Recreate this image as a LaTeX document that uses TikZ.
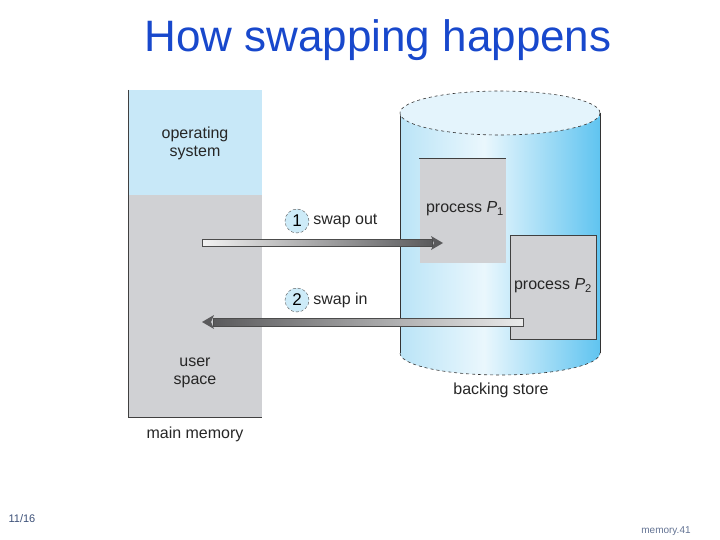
\documentclass[tikz,border=0pt]{standalone}
\usepackage{fontspec}
\setmainfont{Liberation Sans}
\usetikzlibrary{positioning}

\definecolor{titleblue}{RGB}{24,72,204}
\definecolor{osblue}{RGB}{200,232,248}
\definecolor{memgray}{RGB}{208,209,212}
\definecolor{cylL}{RGB}{186,228,247}
\definecolor{cylM}{RGB}{234,247,253}
\definecolor{cylR}{RGB}{96,196,240}
\definecolor{cyltop}{RGB}{228,244,252}
\definecolor{numblue}{RGB}{205,235,248}
\definecolor{footblue}{RGB}{60,80,120}
\definecolor{arrowdark}{RGB}{90,90,92}

\pgfdeclarehorizontalshading{cylshade}{100bp}{color(0bp)=(cylL); color(25bp)=(cylL); color(46bp)=(cylM); color(75bp)=(cylR); color(100bp)=(cylR)}

\tikzset{
  lbl/.style={font=\fontsize{16}{18}\selectfont, text=black!85, align=center, inner sep=0pt},
  membox/.style={minimum width=133pt, inner sep=0pt, draw=none},
  procbox/.style={fill=memgray, minimum width=86pt, minimum height=104pt, inner sep=0pt},
  stepnum/.style={circle, fill=numblue, draw=black!70, densely dashed, minimum size=24pt, inner sep=0pt, font=\fontsize{17}{18}\selectfont},
}

\begin{document}
\begin{tikzpicture}[x=1pt,y=-1pt]
                \useasboundingbox (0,0) rectangle (720,540);

                \node[font=\fontsize{44}{48}\selectfont, text=titleblue] (title) at (378,40) {How swapping happens};

                % main memory
                \node[membox, fill=osblue, minimum height=105pt] (os) at (195.5,142.5) {};
                \node[membox, fill=memgray, minimum height=222pt] (user) at (195.5,306) {};
                \draw[black!75, line width=1pt] (os.north west) -- (user.south west) -- (user.south east);
                \node[lbl] (oslbl) at (195,143) {operating\\system};
                \node[lbl] (userlbl) at (195,373) {user\\space};
                \node[lbl] (mainlbl) at (195,434) {main memory};

                % backing store
                \path[shading=cylshade] (400,113) -- (400,353) arc[start angle=180, end angle=0, x radius=100, y radius=22] -- (600,113) -- cycle;
                \draw[black!80, line width=0.6pt] (400,113) -- (400,353);
                \draw[black!80, line width=0.6pt] (600,113) -- (600,353);
                \draw[black!80, line width=0.6pt, dashed] (400,353) arc[start angle=180, end angle=0, x radius=100, y radius=22];
                \draw[black!80, line width=0.6pt, dashed, fill=cyltop] (500,113) ellipse[x radius=100, y radius=22];
                \node[lbl] (storelbl) at (501,390) {backing store};

                \node[procbox] (p1) at (462.5,211) {};
                \draw[black!75, line width=0.8pt] (p1.north west) -- (p1.north east);
                \node[lbl] (p1lbl) at (465,209) {process \textit{P}\textsubscript{1}};
                \node[procbox, draw=black!75, line width=0.8pt] (p2) at (553.5,287) {};
                \node[lbl] (p2lbl) at (553,286) {process \textit{P}\textsubscript{2}};

                % swap out
                \node[stepnum] (one) at (297,221) {1};
                \node[lbl, right=4pt of one] (outlbl) {swap out};
                \coordinate (outA) at (202,243);
                \coordinate (outB) at (443,243);
                \shade[left color=white!95!black, right color=arrowdark, draw=black!70, line width=0.5pt] ([yshift=3.5pt]outA) rectangle ([xshift=-11pt,yshift=-3.5pt]outB);
                \fill[arrowdark] ([xshift=-12pt,yshift=7pt]outB) -- (outB) -- ([xshift=-12pt,yshift=-7pt]outB) -- ([xshift=-9pt]outB) -- cycle;

                % swap in
                \node[stepnum] (two) at (297,300) {2};
                \node[lbl, right=4pt of two] (inlbl) {swap in};
                \coordinate (inA) at (523,322);
                \coordinate (inB) at (202,322);
                \shade[left color=arrowdark, right color=white!92!black, draw=black!70, line width=0.5pt] ([xshift=11pt,yshift=4pt]inB) rectangle ([yshift=-4pt]inA);
                \fill[arrowdark] ([xshift=12pt,yshift=7pt]inB) -- (inB) -- ([xshift=12pt,yshift=-7pt]inB) -- ([xshift=9pt]inB) -- cycle;

                % footer
                \node[font=\fontsize{11}{13}\selectfont, text=footblue] (page) at (22,519) {11/16};
                \node[font=\fontsize{10}{12}\selectfont, text=footblue!80] (slide) at (666,531) {memory.41};
            \end{tikzpicture}
\end{document}
